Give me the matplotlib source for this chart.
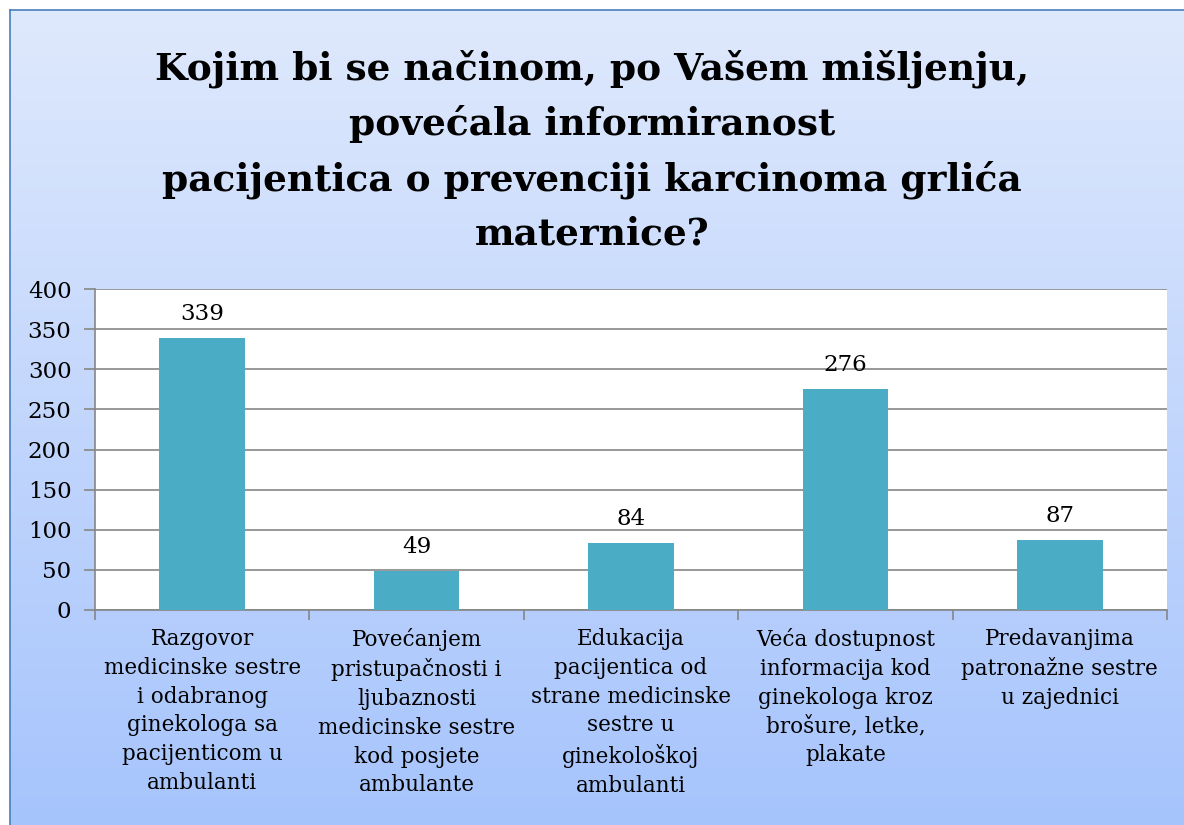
import numpy as np
import matplotlib
matplotlib.use('Agg')
import matplotlib.pyplot as plt
from matplotlib.colors import LinearSegmentedColormap

# chart data
categories = [
    "Razgovor\nmedicinske sestre\ni odabranog\nginekologa sa\npacijenticom u\nambulanti",
    "Povećanjem\npristupačnosti i\nljubaznosti\nmedicinske sestre\nkod posjete\nambulante",
    "Edukacija\npacijentica od\nstrane medicinske\nsestre u\nginekološkoj\nambulanti",
    "Veća dostupnost\ninformacija kod\nginekologa kroz\nbrošure, letke,\nplakate",
    "Predavanjima\npatronažne sestre\nu zajednici",
]
values = [339, 49, 84, 276, 87]
yticks = [0, 50, 100, 150, 200, 250, 300, 350, 400]
title = ("Kojim bi se načinom, po Vašem mišljenju,\npovećala informiranost\n"
         "pacijentica o prevenciji karcinoma grlića\nmaternice?")

plt.rcParams['font.family'] = ['DejaVu Serif']

W, H = 1184, 825
fig = plt.figure(figsize=(W / 100, H / 100), dpi=100)

# gradient background panel
bg = fig.add_axes([10 / W, 0, 1 - 10 / W, 1 - 10 / H])
grad = LinearSegmentedColormap.from_list('g', ['#dfe9fc', '#a6c4fc'])
bg.imshow(np.linspace(0, 1, 256).reshape(-1, 1), aspect='auto', cmap=grad,
          extent=[0, 1, 0, 1])
bg.set_xticks([])
bg.set_yticks([])
for s in ['right', 'bottom']:
    bg.spines[s].set_visible(False)
for s in ['left', 'top']:
    bg.spines[s].set_color('#4a7ebb')
    bg.spines[s].set_linewidth(1.2)
bg.set_zorder(0)

fig.text(0.5, 1 - 151 / H, title, ha='center', va='center', fontsize=27,
         fontweight='bold', linespacing=1.58)

# plot area
left, right, top, bottom = 95, 1167, 289, 610
ax = fig.add_axes([left / W, 1 - bottom / H, (right - left) / W, (bottom - top) / H])
ax.set_zorder(1)
ax.set_facecolor('white')
x = np.arange(len(values))
bars = ax.bar(x, values, width=0.4, color='#4bacc6', zorder=3)
for xi, v in zip(x, values):
    ax.text(xi, v + 16, str(v), ha='center', va='bottom', fontsize=16.5)

ax.set_xlim(-0.5, len(values) - 0.5)
ax.set_ylim(0, 400)
ax.set_yticks(yticks)
ax.set_yticklabels([str(t) for t in yticks], fontsize=16.5)
ax.yaxis.grid(True, color='#868686', linewidth=1.2, zorder=0)
ax.tick_params(axis='y', length=8, color='#868686', width=1.2, pad=9)

ax.set_xticks(x)
ax.set_xticklabels(categories, fontsize=15.5, linespacing=1.4, va='top')
ax.tick_params(axis='x', length=0, pad=13)
ax.set_xticks(np.arange(len(values) + 1) - 0.5, minor=True)
ax.tick_params(axis='x', which='minor', length=7, color='#868686', width=1.2)

for s in ['top', 'right']:
    ax.spines[s].set_visible(False)
for s in ['left', 'bottom']:
    ax.spines[s].set_color('#868686')
    ax.spines[s].set_linewidth(1.2)

fig.savefig('out.png', dpi=100)
